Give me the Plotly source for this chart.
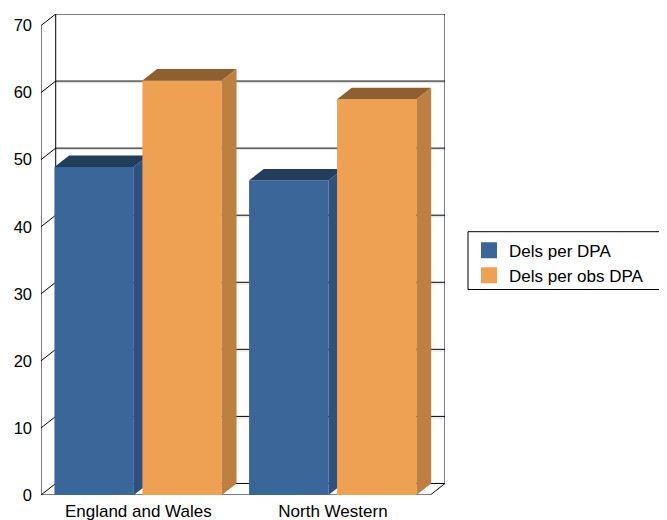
import plotly.graph_objects as go

# ---- data ----
categories = ["England and Wales", "North Western"]
series_names = ["Dels per DPA", "Dels per obs DPA"]
dels_per_dpa = [48.9, 46.9]
dels_per_obs_dpa = [61.8, 59.0]
y_ticks = [0, 10, 20, 30, 40, 50, 60, 70]

series_values = [dels_per_dpa, dels_per_obs_dpa]

# ---- style ----
front_colors = ["#3B6699", "#EEA153"]
top_colors = ["#233D5D", "#8E5F30"]
side_colors = ["#2E5180", "#BE7F41"]

DX = 0.0756   # depth offset along x (category units)
DY = 1.72     # depth offset along y (value units)
BAR_W = 0.408
OFFSETS = [-0.227, 0.225]
YMAX = y_ticks[-1]
X0, X1 = -0.5, len(categories) - 0.5

# page body has an 8px default margin; size the figure to fill the rest
FIG_W, FIG_H = 659, 512
M_L, M_R, M_T, M_B = 33, 222, 6, 25

fig = go.Figure()


def add_lines(segments, color="#000000", width=1.0):
    xs, ys = [], []
    for (xa, ya), (xb, yb) in segments:
        xs += [xa, xb, None]
        ys += [ya, yb, None]
    fig.add_trace(go.Scatter(x=xs, y=ys, mode="lines",
                             line=dict(color=color, width=width),
                             hoverinfo="skip", showlegend=False, cliponaxis=False))


def add_poly(pts, color):
    xs = [p[0] for p in pts] + [pts[0][0]]
    ys = [p[1] for p in pts] + [pts[0][1]]
    fig.add_trace(go.Scatter(x=xs, y=ys, mode="lines", fill="toself",
                             fillcolor=color, line=dict(width=0, color=color),
                             hoverinfo="skip", showlegend=False, cliponaxis=False))


# ---- walls & grid ----
shadow = []
segs = []
for t in y_ticks:
    segs.append(((X0 + DX, t + DY), (X1 + DX, t + DY)))      # back wall grid
    segs.append(((X0, t), (X0 + DX, t + DY)))                # left wall diagonals
    if 0 < t < YMAX:
        shadow.append(((X0 + DX, t + DY - 0.24), (X1 + DX, t + DY - 0.24)))
segs.append(((X0 + DX, DY), (X0 + DX, YMAX + DY)))            # back-left vertical
segs.append(((X1 + DX, DY), (X1 + DX, YMAX + DY)))            # back-right vertical
segs.append(((X0, 0), (X0, YMAX)))                             # front axis
segs.append(((X0, 0), (X1, 0)))                                # floor front edge
segs.append(((X1, 0), (X1 + DX, DY)))                          # floor right edge
add_lines(shadow, color="#dddddd", width=1)
add_lines(segs, color="#000000", width=1)

# ---- 3D bars ----
for i, cat in enumerate(categories):
    for s, vals in enumerate(series_values):
        v = vals[i]
        xc = i + OFFSETS[s]
        xa, xb = xc - BAR_W / 2, xc + BAR_W / 2
        add_poly([(xa, 0), (xb, 0), (xb, v), (xa, v)], front_colors[s])
        add_poly([(xa, v), (xb, v), (xb + DX, v + DY), (xa + DX, v + DY)], top_colors[s])
        add_poly([(xb, 0), (xb + DX, DY), (xb + DX, v + DY), (xb, v)], side_colors[s])

# ---- legend entries ----
for s, name in enumerate(series_names):
    fig.add_trace(go.Scatter(x=[None], y=[None], mode="markers", name=name,
                             marker=dict(symbol="square", size=16, color=front_colors[s],
                                         line=dict(width=0))))

plot_w = FIG_W - M_L - M_R
plot_h = FIG_H - M_T - M_B

# legend box (page px -> paper coords); it runs past the right edge of the picture
leg_left = 1 + (468 - 8 - (FIG_W - M_R)) / plot_w
leg_top = 1 - (231.7 - 8 - M_T) / plot_h
leg_bottom = 1 - (289.5 - 8 - M_T) / plot_h

fig.add_shape(type="rect", xref="paper", yref="paper",
              x0=leg_left, x1=leg_left + 0.6, y0=leg_bottom, y1=leg_top,
              line=dict(color="#000000", width=1), fillcolor="rgba(0,0,0,0)")

fig.update_layout(
    width=FIG_W, height=FIG_H,
    margin=dict(l=M_L, r=M_R, t=M_T, b=M_B, autoexpand=False),
    paper_bgcolor="white", plot_bgcolor="white",
    font=dict(family="Liberation Sans, Arial, sans-serif", color="#000000"),
    xaxis=dict(range=[X0, X1 + DX], tickvals=list(range(len(categories))),
               ticktext=categories, showgrid=False, zeroline=False, showline=False,
               ticks="", tickfont=dict(size=17), ticklabelstandoff=4, automargin=False),
    yaxis=dict(range=[0, YMAX + DY], tickvals=y_ticks, showgrid=False, zeroline=False,
               showline=False, ticks="", tickfont=dict(size=16.5), ticklabelstandoff=8,
               automargin=False),
    legend=dict(x=leg_left + 1 / plot_w, y=leg_top - 1 / plot_h, xanchor="left", yanchor="top",
                borderwidth=0, bgcolor="rgba(0,0,0,0)",
                font=dict(size=17), tracegroupgap=0),
    showlegend=True,
)

fig.write_html("out.html")
